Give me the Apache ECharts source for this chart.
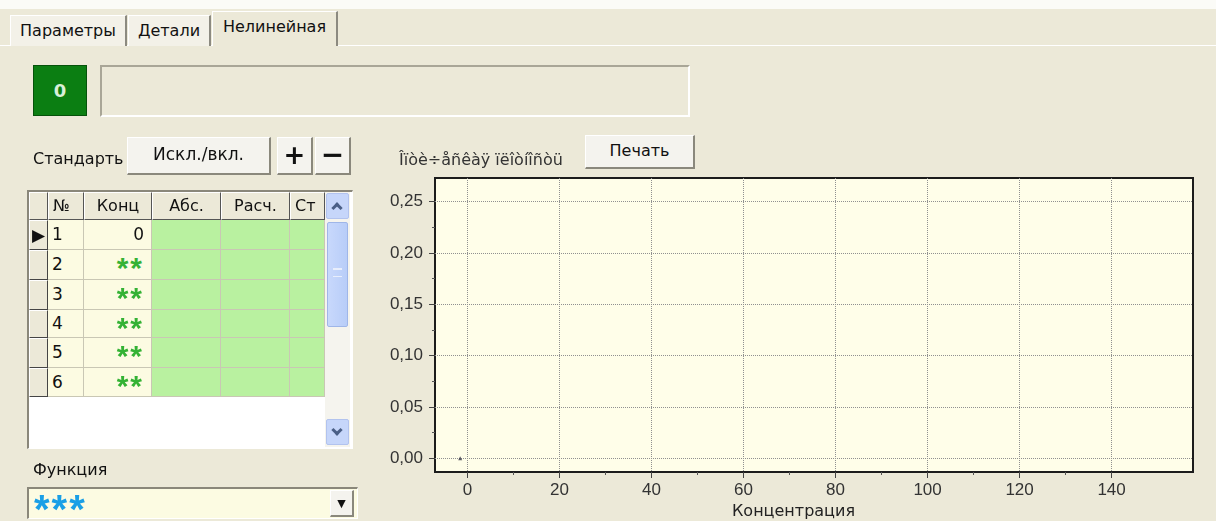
<!DOCTYPE html>
<html>
<head>
<meta charset="utf-8">
<script src="https://cdn.jsdelivr.net/npm/echarts@6/dist/echarts.min.js"></script>
<style>
body { margin:0; width:1216px; height:521px; overflow:hidden; background:#ece9d8; position:relative;
  font-family:"DejaVu Sans", "Liberation Sans", Arial, sans-serif; font-size:16px; color:#111; }
.a { position:absolute; box-sizing:border-box; }
#chart { position:absolute; left:0; top:0; width:1216px; height:521px; }
.tab { top:15px; height:31px; background:#f3f1e8; border-top:1px solid #fff; border-left:1px solid #fff;
  border-right:2px solid #8c8a80; text-align:center; line-height:30px; font-size:16px; }
.tab.sel { top:11px; height:35px; background:#ece9d8; line-height:30px; z-index:3; }
.btn { background:#f4f3ee; border-top:1px solid #fff; border-left:1px solid #fff; border-right:2px solid #8a887c;
  border-bottom:2px solid #8a887c; text-align:center; font-size:16px; }
.hd { background:#ece9d8; border-right:1px solid #555; border-bottom:1px solid #555; border-top:1px solid #fff;
  border-left:1px solid #fff; font-size:16px; line-height:26px; }
.ind { background:#ece9d8; border-right:1px solid #444; border-bottom:1px solid #444; border-top:1px solid #fff; border-left:1px solid #fff; }
.cell { border-right:1px solid #c9c7b4; border-bottom:1px solid #c9c7b4; font-size:17px; }
.cream { background:#fcfbe2; }
.green { background:#b9f1a0; }
.stars { color:#34b234; font-weight:bold; font-size:30px; letter-spacing:2px; font-family:"Liberation Sans", Arial, sans-serif; }
.chev { width:8px; height:8px; border-left:3px solid #4a5f86; border-top:3px solid #4a5f86; }
</style>
</head>
<body>
<div id="chart"></div>

<!-- tabs -->
<div class="a" style="left:0;top:0;width:1216px;height:9px;background:#fbfbf7"></div>
<div class="a" style="left:0;top:45px;width:1216px;height:1px;background:#fff"></div>
<div class="a tab" style="left:10px;width:117px">Параметры</div>
<div class="a tab" style="left:128px;width:83px">Детали</div>
<div class="a tab sel" style="left:212px;width:126px">Нелинейная</div>

<!-- indicator + text field -->
<div class="a" style="left:33px;top:65px;width:54px;height:51px;background:#0b7e12;border:1px solid #05520a;color:#d8f0d8;font-weight:bold;font-size:18px;text-align:center;line-height:49px">0</div>
<div class="a" style="left:100px;top:65px;width:590px;height:52px;border-top:2px solid #a9a697;border-left:2px solid #a9a697;border-right:2px solid #fff;border-bottom:2px solid #fff"></div>

<!-- standard buttons -->
<div class="a" style="left:33px;top:149px">Стандарть</div>
<div class="a btn" style="left:127px;top:137px;width:144px;height:38px;line-height:32px;font-size:17px">Искл./вкл.</div>
<div class="a btn" style="left:277px;top:137px;width:36px;height:38px;line-height:34px;font-size:26px;font-weight:bold">+</div>
<div class="a btn" style="left:315px;top:137px;width:36px;height:38px;line-height:33px;font-size:28px;font-weight:bold">−</div>

<!-- table -->
<div class="a" style="left:27px;top:190px;width:326px;height:259px;background:#fff;border-top:2px solid #8a877a;border-left:2px solid #8a877a;border-right:1px solid #fff;border-bottom:1px solid #fff"></div>
<div id="grid"></div>
<!-- scrollbar -->
<div class="a" style="left:325px;top:192px;width:25px;height:255px;background:#f5f4ee"></div>
<div class="a" style="left:326px;top:193px;width:23px;height:26px;background:#c6d6fa;border:1px solid #b2c3ee;border-radius:2px"></div>
<div class="a chev" style="left:333px;top:204px;transform:rotate(45deg)"></div>
<div class="a" style="left:327px;top:222px;width:21px;height:105px;background:linear-gradient(90deg,#c8d8fc,#b8cdf8);border:1px solid #9fb6e8;border-radius:2px"></div>
<div class="a" style="left:333px;top:268px;width:9px;height:9px;border-top:1px solid #e8eefc;border-bottom:1px solid #e8eefc;box-shadow:0 4px 0 -3px #e8eefc inset"></div>
<div class="a" style="left:326px;top:419px;width:23px;height:26px;background:#c6d6fa;border:1px solid #b2c3ee;border-radius:2px"></div>
<div class="a chev" style="left:333px;top:426px;transform:rotate(225deg)"></div>

<!-- function combobox -->
<div class="a" style="left:33px;top:460px">Функция</div>
<div class="a" style="left:27px;top:487px;width:331px;height:32px;background:#fcfbe2;border-top:2px solid #8a877a;border-left:2px solid #8a877a;border-right:1px solid #fff;border-bottom:1px solid #fff"></div>
<div class="a" style="left:34px;top:488px;height:30px;overflow:visible;color:#1a9fe6;font-weight:bold;font-size:40px;line-height:43px;letter-spacing:2px;font-family:'Liberation Sans',Arial,sans-serif">***</div>
<div class="a btn" style="left:330px;top:490px;width:24px;height:27px;font-size:11px;line-height:25px">▼</div>

<!-- print button -->
<div class="a btn" style="left:585px;top:135px;width:110px;height:34px;line-height:29px">Печать</div>

<script>
// таблица стандартов
const rowNums = ['1', '2', '3', '4', '5', '6'];
const rowConc = ['0', '**', '**', '**', '**', '**'];
const colHeads = ['№', 'Конц', 'Абс.', 'Расч.', 'Ст'];
const colX = [48, 84, 152, 221, 290, 325];
const rowY = [220, 250, 280, 310, 338, 368, 397];

// данные графика
const xLabels = [0, 20, 40, 60, 80, 100, 120, 140];
const xMinorTicks = [10, 30, 50, 70, 90, 110, 130];
const yLabels = [0, 0.05, 0.1, 0.15, 0.2, 0.25];
const yMinorTicks = [0.025, 0.075, 0.125, 0.175, 0.225];
const concentration = [-1.6];
const opticalDensity = [0];

let html = '';
html += '<div class="a hd" style="left:29px;top:192px;width:19px;height:28px"></div>';
colHeads.forEach((h, i) => {
  const align = (i === 0 || i === 4) ? 'left;padding-left:4px' : 'center';
  html += '<div class="a hd" style="left:' + colX[i] + 'px;top:192px;width:' + (colX[i + 1] - colX[i]) +
    'px;height:28px;text-align:' + align + '">' + h + '</div>';
});
rowNums.forEach((n, r) => {
  const top = rowY[r], h = rowY[r + 1] - rowY[r];
  html += '<div class="a ind" style="left:29px;top:' + top + 'px;width:19px;height:' + h + 'px;font-size:17px;line-height:' + (h - 2) + 'px;text-align:center">' + (r === 0 ? '▶' : '') + '</div>';
  html += '<div class="a cell cream" style="left:48px;top:' + top + 'px;width:36px;height:' + h + 'px;line-height:' + (h - 1) + 'px;padding-left:4px">' + n + '</div>';
  const c = rowConc[r];
  const lh = c === '**' ? 36 : h - 1;
  html += '<div class="a cell cream' + (c === '**' ? ' stars' : '') + '" style="left:84px;top:' + top + 'px;width:68px;height:' + h + 'px;overflow:hidden;line-height:' + lh + 'px;text-align:right;padding-right:7px">' + c + '</div>';
  for (let k = 2; k < 5; k++) {
    html += '<div class="a cell green" style="left:' + colX[k] + 'px;top:' + top + 'px;width:' + (colX[k + 1] - colX[k]) + 'px;height:' + h + 'px"></div>';
  }
});
document.getElementById('grid').innerHTML = html;

const myChart = echarts.init(document.getElementById('chart'));
const fmt = v => v.toFixed(2).replace('.', ',');
const labelFont = { fontSize: 17, color: '#333', fontFamily: 'Liberation Sans' };
const option = {
  animation: false,
  title: {
    text: 'Îïòè÷åñêàÿ ïëîòíîñòü',
    left: 394, top: 148,
    textStyle: { fontSize: 16, fontWeight: 'normal', color: '#333', fontFamily: 'DejaVu Sans' }
  },
  grid: {
    left: 435, top: 178, width: 758, height: 294,
    show: true, backgroundColor: '#fffee9', borderColor: '#1c1c1c', borderWidth: 2
  },
  xAxis: [
    {
      type: 'value', min: -7.07, max: 157.7,
      axisLine: { show: false, onZero: false },
      axisTick: { customValues: xLabels, length: 6, lineStyle: { color: '#444' } },
      axisLabel: Object.assign({ customValues: xLabels, margin: 10 }, labelFont),
      splitLine: { show: true, lineStyle: { color: '#909090', type: [1, 1] } }
    },
    {
      type: 'value', min: -7.07, max: 157.7, position: 'bottom',
      axisLine: { show: false, onZero: false },
      axisTick: { customValues: xMinorTicks, length: 3, lineStyle: { color: '#555' } },
      axisLabel: { show: false },
      splitLine: { show: false }
    }
  ],
  yAxis: [
    {
      type: 'value', min: -0.0133, max: 0.273,
      axisLine: { show: false, onZero: false },
      axisTick: { customValues: yLabels, length: 6, lineStyle: { color: '#444' } },
      axisLabel: Object.assign({ customValues: yLabels, margin: 12, formatter: fmt }, labelFont),
      splitLine: { show: true, lineStyle: { color: '#909090', type: [1, 1] } }
    },
    {
      type: 'value', min: -0.0133, max: 0.273, position: 'left',
      axisLine: { show: false, onZero: false },
      axisTick: { customValues: yMinorTicks, length: 3, lineStyle: { color: '#555' } },
      axisLabel: { show: false },
      splitLine: { show: false }
    }
  ],
  graphic: [
    {
      type: 'text', left: 732, top: 504,
      style: { text: 'Концентрация', fontSize: 16, fill: '#222', fontFamily: 'DejaVu Sans' }
    }
  ],
  series: [
    {
      type: 'scatter',
      symbol: 'triangle', symbolSize: 4,
      itemStyle: { color: '#334' },
      data: concentration.map((x, i) => [x, opticalDensity[i]])
    }
  ]
};
myChart.setOption(option);
</script>
</body>
</html>
